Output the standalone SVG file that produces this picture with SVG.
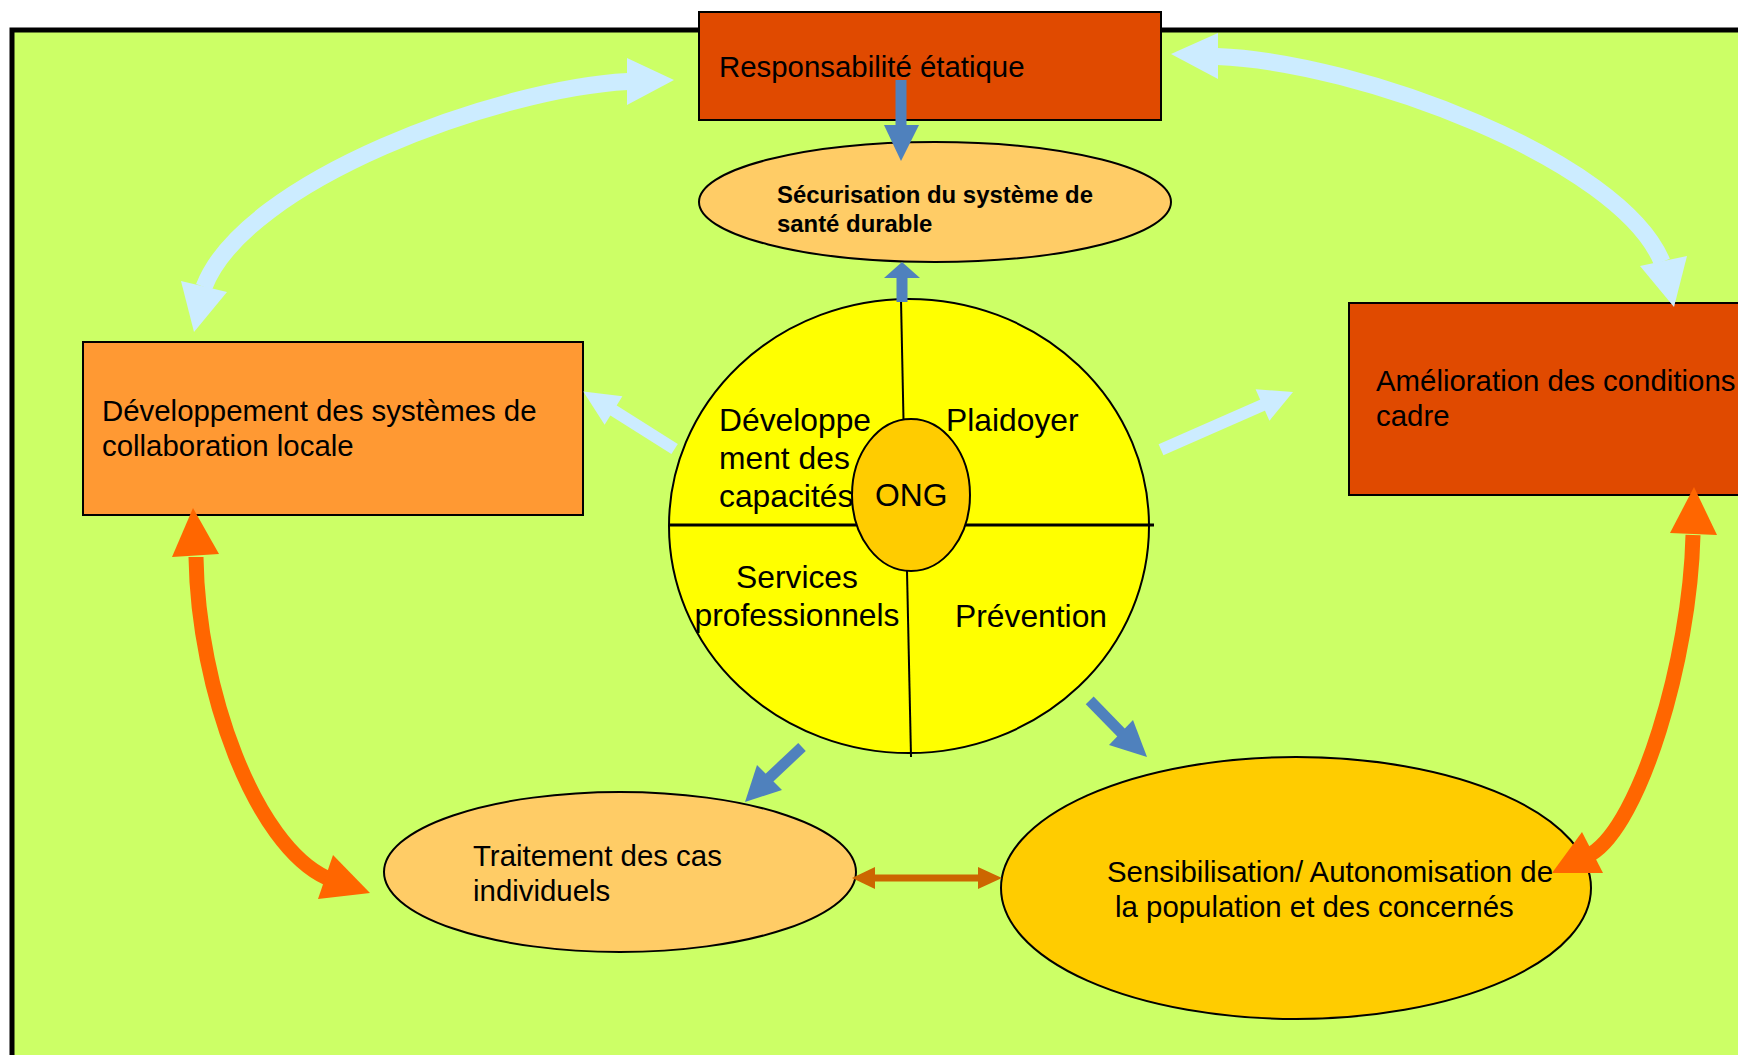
<svg xmlns="http://www.w3.org/2000/svg" width="1738" height="1055" viewBox="0 0 1738 1055">
<style>
.t{font-family:"Liberation Sans",Arial,sans-serif;font-size:29.4px;fill:#000}
.c{font-size:31.8px}
.b{font-weight:bold;font-size:23.9px}
.box{stroke:#000;stroke-width:2}
.ol{stroke:#000;stroke-width:2}
.lb{fill:#CCECFF}
.lbs{fill:none;stroke:#CCECFF;stroke-width:17}
.bl{fill:#4F81BD}
.bls{stroke:#4F81BD;stroke-width:11;fill:none}
.or{fill:#FF6600}
.ors{fill:none;stroke:#FF6600;stroke-width:15}
.br{fill:#CC6600}
</style>
<rect x="0" y="0" width="1738" height="1055" fill="#fff"/>
<rect x="12" y="30" width="1800" height="1100" fill="#CCFF66" stroke="#000" stroke-width="5"/>

<g id="responsabilite">
<rect class="box" x="699" y="12" width="462" height="108" fill="#E04A00"/>
<text class="t" x="719" y="77">Responsabilité étatique</text>
</g>
<g id="securisation">
<ellipse class="ol" cx="935" cy="202" rx="236" ry="60" fill="#FFCC66"/>
<text class="t b" x="777" y="203">Sécurisation du système de</text>
<text class="t b" x="777" y="232">santé durable</text>
</g>
<g id="developpement-local">
<rect class="box" x="83" y="342" width="500" height="173" fill="#FF9933"/>
<text class="t" x="102" y="421">Développement des systèmes de</text>
<text class="t" x="102" y="456">collaboration locale</text>
</g>
<g id="amelioration">
<rect class="box" x="1349" y="303" width="420" height="192" fill="#E04A00"/>
<text class="t" x="1376" y="391">Amélioration des conditions</text>
<text class="t" x="1376" y="426">cadre</text>
</g>
<g id="ong-cercle">
<ellipse class="ol" cx="909" cy="526" rx="240" ry="227" fill="#FFFF00"/>
<line x1="669" y1="525" x2="1154" y2="525" stroke="#000" stroke-width="3"/>
<line x1="901" y1="300" x2="903.5" y2="420" stroke="#000" stroke-width="2"/>
<line x1="907" y1="571" x2="911" y2="757" stroke="#000" stroke-width="2"/>
<text class="t c" x="719" y="431">Développe</text>
<text class="t c" x="719" y="469">ment des</text>
<text class="t c" x="719" y="507">capacités</text>
<text class="t c" x="946" y="431">Plaidoyer</text>
<text class="t c" x="797" y="588" text-anchor="middle">Services</text>
<text class="t c" x="797" y="626" text-anchor="middle">professionnels</text>
<text class="t c" x="955" y="627">Prévention</text>
</g>
<g id="ong">
<ellipse class="ol" cx="911" cy="495" rx="59" ry="76" fill="#FFCC00"/>
<text class="t c" x="875" y="506">ONG</text>
</g>
<g id="traitement">
<ellipse class="ol" cx="620" cy="872" rx="236" ry="80" fill="#FFCC66"/>
<text class="t" x="473" y="866">Traitement des cas</text>
<text class="t" x="473" y="901">individuels</text>
</g>
<g id="sensibilisation">
<ellipse class="ol" cx="1296" cy="888" rx="295" ry="131" fill="#FFCC00"/>
<text class="t" x="1107" y="882">Sensibilisation/ Autonomisation de</text>
<text class="t" x="1115" y="917">la population et des concernés</text>
</g>

<g id="connectors">
<path class="lbs" d="M 628 81.5 C 500 88, 245 180, 204 287"/>
<polygon class="lb" points="627,58 674,80 627,105"/>
<polygon class="lb" points="181,281 194,332 227,292"/>
<path class="lbs" d="M 1217 56.5 C 1360 62, 1620 160, 1662 262"/>
<polygon class="lb" points="1218,33 1171,54 1218,79"/>
<polygon class="lb" points="1640,266 1674,307 1687,256"/>
<line x1="674.6" y1="449" x2="612" y2="409.5" stroke="#CCECFF" stroke-width="12"/>
<polygon class="lb" points="622.4,396.3 583.3,391.5 604.6,424.7"/>
<line x1="1161" y1="449.7" x2="1264" y2="404.5" stroke="#CCECFF" stroke-width="12"/>
<polygon class="lb" points="1255.6,389.2 1293,392 1269.4,420.8"/>

<line class="bls" x1="901" y1="80" x2="901" y2="127"/>
<polygon class="bl" points="884,125 919,125 901,161"/>
<line class="bls" x1="902" y1="302" x2="902" y2="276"/>
<polygon class="bl" points="884,278 920,278 902,262"/>
<line class="bls" x1="802" y1="747" x2="768" y2="779"/>
<polygon class="bl" points="757,765 745,802 782,790"/>
<line class="bls" x1="1089.7" y1="700.3" x2="1122.5" y2="734"/>
<polygon class="bl" points="1109,745 1147,757 1133,720"/>

<rect class="br" x="874" y="874.5" width="105" height="7"/>
<polygon class="br" points="875,867 852,878 875,889"/>
<polygon class="br" points="978,867 1002,878 978,889"/>

<path class="ors" d="M 196 557 C 198 690, 255 845, 327 878"/>
<polygon class="or" points="172,557 193,508 219,554"/>
<polygon class="or" points="333,855 370,893 318,899"/>
<path class="ors" d="M 1693 535 C 1690 660, 1640 825, 1591 854"/>
<polygon class="or" points="1670,533 1694,487 1717,535"/>
<polygon class="or" points="1582,832 1552,873 1603,873"/>
</g>
</svg>
